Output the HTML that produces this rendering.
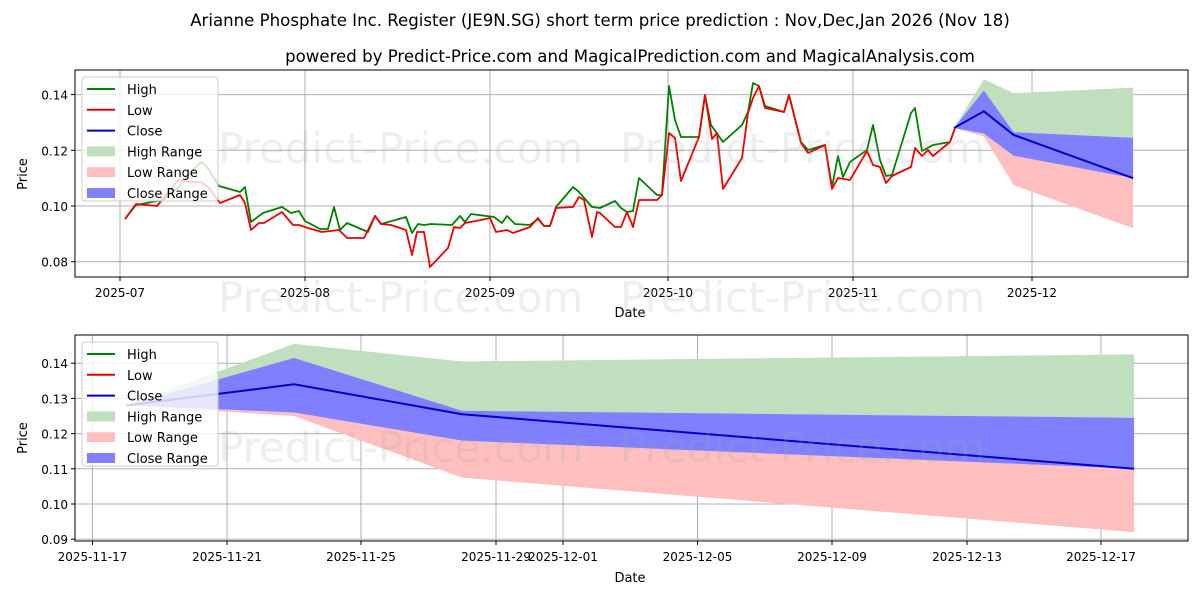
<!DOCTYPE html>
<html><head><meta charset="utf-8"><style>
html,body{margin:0;padding:0;background:#fff;}
svg{display:block;font-family:"DejaVu Sans","Liberation Sans",sans-serif;}
</style></head><body>
<svg id="s" width="1200" height="600" xmlns="http://www.w3.org/2000/svg">
<rect width="1200" height="600" fill="#fff"/>
<text x="600" y="26" font-size="16.6" text-anchor="middle">Arianne Phosphate Inc. Register (JE9N.SG) short term price prediction : Nov,Dec,Jan 2026 (Nov 18)</text>
<text x="630" y="62" font-size="16.6" text-anchor="middle">powered by Predict-Price.com and MagicalPrediction.com and MagicalAnalysis.com</text>
<g id="gtop"></g>
<g id="gbot"></g>
</svg>
<script>
(function(){
const NS="http://www.w3.org/2000/svg";
function el(p,t,a,txt){const e=document.createElementNS(NS,t);for(const k in a)e.setAttribute(k,a[k]);if(txt!=null)e.textContent=txt;p.appendChild(e);return e;}
const gT=document.getElementById('gtop'),gB=document.getElementById('gbot');
function pts(a){return a.map(p=>p[0]+','+p[1]).join(' ');}
function wm(g,x,y){el(g,'text',{x:x,y:y,'font-size':42,fill:'#a0a0a0','fill-opacity':0.18},'Predict-Price.com');}
const L=75,R=1188,T1=70,B1=277;
const yT=v=>206-(v-0.10)*2785;
[0.14,0.12,0.10,0.08].forEach(v=>{const y=yT(v);el(gT,'line',{x1:L,x2:R,y1:y,y2:y,stroke:'#b0b0b0','stroke-width':1});
 el(gT,'line',{x1:L-4,x2:L,y1:y,y2:y,stroke:'#000'});el(gT,'text',{x:L-7,y:y+5,'font-size':12,'text-anchor':'end'},v.toFixed(2));});
[[120,'2025-07'],[305,'2025-08'],[490,'2025-09'],[668,'2025-10'],[853,'2025-11'],[1032,'2025-12']].forEach(([x,t])=>{
 el(gT,'line',{x1:x,x2:x,y1:T1,y2:B1,stroke:'#b0b0b0'});el(gT,'line',{x1:x,x2:x,y1:B1,y2:B1+4,stroke:'#000'});
 el(gT,'text',{x:x,y:B1+20,'font-size':12,'text-anchor':'middle'},t);});
const xt=d=>954+5.97*d;
const F=[[0,0.128,0.128,0.128,0.128,0.128],[5,0.134,0.1455,0.1415,0.126,0.125],[10,0.1255,0.1405,0.1265,0.118,0.1075],[30,0.110,0.1425,0.1245,0.110,0.092]];
function band(g,xf,yf,i,j,col){const a=F.map(r=>[xf(r[0]),yf(r[i])]),b=F.map(r=>[xf(r[0]),yf(r[j])]).reverse();el(g,'polygon',{points:pts(a.concat(b)),fill:col});}
function fc(g,xf,yf){band(g,xf,yf,2,3,'#bfdfbf');band(g,xf,yf,4,5,'#ffbfbf');band(g,xf,yf,3,4,'#8080ff');
 el(g,'polyline',{points:pts(F.map(r=>[xf(r[0]),yf(r[1])])),fill:'none',stroke:'#0000cc','stroke-width':2});}
fc(gT,xt,yT);
const G=[[125,219],[136,205],[152,202],[163,200],[178,188],[190,173],[201,162],[207,167],[219,186],[240,192],[245,187],[251,222],[263,213],[282,207],[291,213],[299,211],[305,221],[320,229],[328,229],[334,207],[340,230],[347,223],[368,232],[375,216],[381,224],[406,217],[412,233],[418,224],[424,225],[431,224],[452,225],[460,216],[465,222],[471,214],[494,217],[502,223],[507,216],[515,224],[530,225],[538,219],[544,226],[550,226],[556,207],[573,187],[579,192],[592,207],[600,208],[615,201],[621,208],[627,212],[633,211],[639,178],[657,195],[662,195],[669,86],[675,120],[681,137],[699,137],[705,95],[711,125],[723,142],[742,125],[748,112],[753,83],[759,86],[765,106],[784,112],[789,95],[801,142],[808,150],[825,145],[832,187],[838,156],[843,177],[850,162],[867,150],[873,125],[880,160],[886,176],[892,175],[911,113],[915,108],[922,151],[933,145],[950,142],[955,128]];
const Rd=[[125,219],[136,204],[157,206],[178,180],[190,182],[201,182],[209,188],[220,203],[240,195],[245,203],[251,230],[259,223],[264,223],[282,212],[293,225],[299,225],[308,228],[322,232],[339,230],[347,238],[364,238],[375,216],[381,224],[391,225],[406,230],[412,255],[417,232],[424,232],[430,267],[448,248],[454,227],[460,228],[465,223],[481,220],[490,218],[496,232],[507,230],[513,233],[530,227],[538,218],[544,226],[550,226],[556,208],[573,207],[579,197],[584,200],[592,237],[597,212],[600,213],[615,227],[621,227],[627,212],[633,227],[639,200],[657,200],[662,195],[669,133],[675,138],[681,181],[699,137],[705,95],[712,139],[717,133],[723,189],[742,158],[748,113],[753,98],[759,86],[765,108],[784,112],[789,95],[801,143],[808,153],[825,145],[832,189],[838,178],[850,180],[867,151],[873,165],[880,167],[886,183],[892,176],[911,167],[915,148],[922,156],[928,150],[933,156],[950,142],[955,128]];
el(gT,'polyline',{points:pts(G),fill:'none',stroke:'#008000','stroke-width':1.8,'stroke-linejoin':'round'});
el(gT,'polyline',{points:pts(Rd),fill:'none',stroke:'#ee0000','stroke-width':1.8,'stroke-linejoin':'round'});
[[218,163],[620,163],[218,312],[620,312]].forEach(([x,y])=>wm(gT,x,y));
el(gT,'rect',{x:L,y:T1,width:R-L,height:B1-T1,fill:'none',stroke:'#000','stroke-width':1});
el(gT,'text',{x:630,y:317,'font-size':13,'text-anchor':'middle'},'Date');
el(gT,'text',{x:27,y:174,'font-size':13,'text-anchor':'middle',transform:'rotate(-90 27 174)'},'Price');
function legend(g,y0){el(g,'rect',{x:82,y:y0,width:136,height:124,rx:3,fill:'#fff','fill-opacity':0.8,stroke:'#ccc'});
 const it=[['line','#008000','High'],['line','#ee0000','Low'],['line','#0000cc','Close'],['box','#bfdfbf','High Range'],['box','#ffbfbf','Low Range'],['box','#8080ff','Close Range']];
 it.forEach((e,i)=>{const y=y0+12+i*20.8;
  if(e[0]=='line')el(g,'line',{x1:87,x2:115,y1:y,y2:y,stroke:e[1],'stroke-width':2});
  else el(g,'rect',{x:87,y:y-5,width:28,height:10,fill:e[1]});
  el(g,'text',{x:127,y:y+5,'font-size':13},e[2]);});}
legend(gT,77);
const T2=335,B2=541;
const yB=v=>504-(v-0.10)*3520;
const xb=d=>92.5+33.6*(d+1);
[0.14,0.13,0.12,0.11,0.10,0.09].forEach(v=>{const y=yB(v);el(gB,'line',{x1:L,x2:R,y1:y,y2:y,stroke:'#b0b0b0'});
 el(gB,'line',{x1:L-4,x2:L,y1:y,y2:y,stroke:'#000'});el(gB,'text',{x:L-7,y:y+5,'font-size':12,'text-anchor':'end'},v.toFixed(2));});
[[92.5,'2025-11-17'],[227,'2025-11-21'],[361,'2025-11-25'],[496,'2025-11-29'],[563,'2025-12-01'],[697.5,'2025-12-05'],[832,'2025-12-09'],[967,'2025-12-13'],[1101,'2025-12-17']].forEach(([x,t])=>{
 el(gB,'line',{x1:x,x2:x,y1:T2,y2:B2,stroke:'#b0b0b0'});el(gB,'line',{x1:x,x2:x,y1:B2,y2:B2+4,stroke:'#000'});
 el(gB,'text',{x:x,y:B2+20,'font-size':12,'text-anchor':'middle'},t);});
fc(gB,xb,yB);
[[218,462],[620,462]].forEach(([x,y])=>wm(gB,x,y));
el(gB,'rect',{x:L,y:T2,width:R-L,height:B2-T2,fill:'none',stroke:'#000'});
el(gB,'text',{x:630,y:582,'font-size':13,'text-anchor':'middle'},'Date');
el(gB,'text',{x:27,y:438,'font-size':13,'text-anchor':'middle',transform:'rotate(-90 27 438)'},'Price');
legend(gB,342);
})();
</script>
</body></html>
